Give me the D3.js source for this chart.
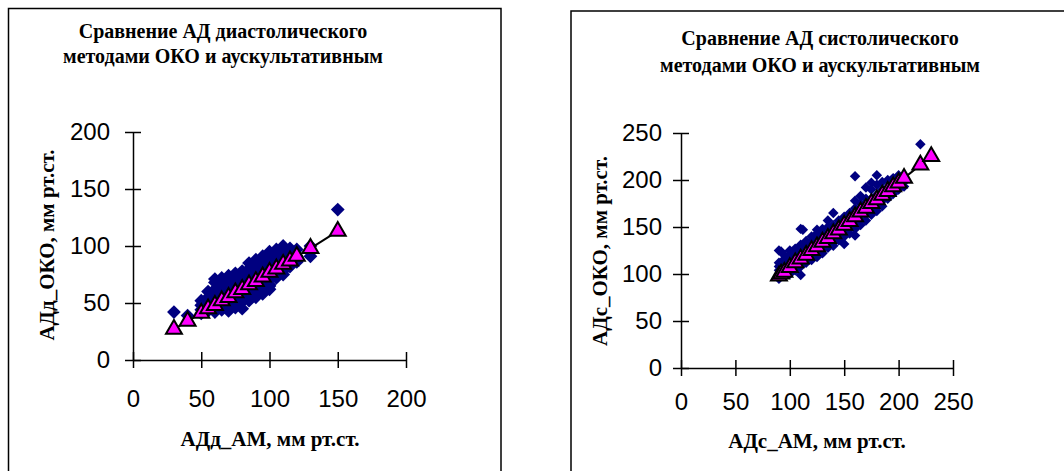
<!DOCTYPE html>
<html>
<head>
<meta charset="utf-8">
<script src="https://cdn.jsdelivr.net/npm/d3@7"></script>
<style>
  body { margin: 0; background: #fff; }
  svg { display: block; }
</style>
</head>
<body>
<svg id="chart" width="1064" height="471"></svg>
<script>
// ---- data ----
// diastolic: AM (x) vs OKO (y)
const diaAM = [
  30, 40,
  50, 50, 50, 50,
  55, 55, 55, 55, 55,
  60, 60, 60, 60, 60, 60, 60, 60, 60,
  65, 65, 65, 65, 65, 65, 65, 65,
  70, 70, 70, 70, 70, 70, 70, 70, 70,
  75, 75, 75, 75, 75, 75, 75, 75,
  80, 80, 80, 80, 80, 80, 80, 80, 80,
  85, 85, 85, 85, 85, 85, 85, 85,
  90, 90, 90, 90, 90, 90, 90, 90,
  95, 95, 95, 95, 95, 95, 95, 95,
  100, 100, 100, 100, 100, 100, 100, 100, 100,
  105, 105, 105, 105, 105, 105,
  110, 110, 110, 110, 110, 110, 110,
  115, 115, 115, 115,
  120, 120, 120,
  130, 130,
  150
];
const diaOKO = [
  42, 39,
  44, 48, 52, 41,
  45, 50, 55, 60, 43,
  42, 47, 52, 57, 62, 68, 71, 45, 50,
  44, 49, 54, 58, 63, 67, 72, 52,
  43, 48, 53, 57, 61, 66, 70, 74, 59,
  46, 50, 55, 60, 64, 68, 73, 76,
  45, 51, 56, 61, 65, 70, 74, 78, 58,
  52, 57, 62, 67, 71, 76, 80, 85,
  55, 60, 64, 69, 73, 78, 83, 88,
  58, 63, 68, 73, 78, 82, 87, 91,
  62, 66, 71, 76, 81, 86, 90, 95, 65,
  72, 77, 82, 87, 92, 97,
  75, 80, 85, 90, 95, 100, 78,
  82, 88, 93, 98,
  86, 91, 97,
  91, 100,
  132
];
const diaTrendX = [30, 40, 50, 55, 60, 65, 70, 75, 80, 85, 90, 95, 100, 105, 110, 115, 120, 130, 150];
const diaTrendY = [27, 34, 41, 45, 48, 52, 55, 59, 62, 66, 69, 73, 77, 80, 84, 87, 91, 98, 113];

// systolic: AM (x) vs OKO (y)
const sysAM = [
  90, 90, 90, 90, 90, 90, 90,
  92, 92, 92,
  95, 95, 95, 95, 95, 95,
  100, 100, 100, 100, 100, 100, 100, 100,
  105, 105, 105, 105, 105, 105,
  110, 110, 110, 110, 110, 110, 110, 110, 110,
  112,
  115, 115, 115, 115, 115, 115,
  120, 120, 120, 120, 120, 120,
  125, 125, 125, 125, 125, 125, 125,
  130, 130, 130, 130, 130, 130,
  135, 135, 135, 135, 135, 135,
  140, 140, 140, 140, 140, 140,
  145, 145, 145, 145, 145,
  150, 150, 150, 150, 150, 150,
  155, 155, 155, 155, 155,
  160, 160, 160, 160, 160, 160, 160, 160,
  165, 165, 165, 165, 165, 165,
  170, 170, 170, 170, 170, 170,
  175, 175, 175, 175, 175, 175,
  180, 180, 180, 180, 180, 180,
  185, 185, 185, 185, 185,
  190, 190, 190, 190,
  195, 195, 195, 195,
  200, 200, 200, 200,
  205, 205,
  220
];
const sysOKO = [
  97, 100, 104, 108, 112, 125, 95,
  110, 102, 124,
  99, 103, 107, 112, 116, 120,
  100, 104, 108, 112, 116, 121, 125, 103,
  104, 108, 113, 118, 122, 127,
  99, 108, 113, 117, 122, 126, 131, 148, 110,
  147,
  112, 117, 121, 126, 131, 135,
  115, 120, 125, 130, 135, 140,
  118, 123, 128, 133, 138, 143, 147,
  122, 127, 132, 137, 142, 148,
  128, 133, 138, 143, 150, 157,
  130, 136, 141, 146, 152, 165,
  136, 141, 146, 152, 157,
  132, 140, 145, 150, 156, 161,
  143, 149, 155, 160, 165,
  141, 148, 153, 158, 164, 170, 178, 204,
  152, 158, 163, 168, 175, 183,
  157, 163, 168, 173, 180, 192,
  163, 168, 174, 180, 190, 197,
  167, 172, 178, 184, 195, 205,
  172, 178, 184, 190, 198,
  180, 186, 192, 200,
  185, 190, 196, 202,
  190, 195, 200, 205,
  193, 198,
  238
];
const sysTrendX = [90, 92, 95, 100, 105, 110, 115, 120, 125, 130, 135, 140, 145, 150, 155, 160, 165, 170, 175, 180, 185, 190, 195, 200, 205, 220, 230];
const sysTrendY = [98, 100, 102, 107, 112, 116, 120, 125, 129, 134, 138, 143, 147, 152, 156, 161, 166, 170, 175, 179, 184, 188, 193, 197, 202, 216, 225];

const diaTicks = [0, 50, 100, 150, 200];
const sysTicks = [0, 50, 100, 150, 200, 250];

const diaTitle = ["Сравнение АД диастолического", "методами ОКО и аускультативным"];
const sysTitle = ["Сравнение АД систолического", "методами ОКО и аускультативным"];
const diaXLabel = "АДд_АМ, мм рт.ст.";
const diaYLabel = "АДд_ОКО, мм рт.ст.";
const sysXLabel = "АДс_АМ, мм рт.ст.";
const sysYLabel = "АДс_ОКО, мм рт.ст.";

const svg = d3.select("#chart");
const serif = "'Liberation Serif', 'DejaVu Serif', serif";

function drawPanel(cfg) {
  // Panel frame
  svg.append("rect")
    .attr("x", cfg.frame[0])
    .attr("y", cfg.frame[1])
    .attr("width", cfg.frame[2])
    .attr("height", cfg.frame[3])
    .attr("fill", "#fff")
    .attr("stroke", "#000")
    .attr("stroke-width", 1.5);

  const x = d3.scaleLinear().domain(d3.extent(cfg.ticks)).range([cfg.plot.left, cfg.plot.right]);
  const y = d3.scaleLinear().domain(d3.extent(cfg.ticks)).range([cfg.plot.bottom, cfg.plot.top]);

  // Title
  svg.append("text")
    .attr("x", cfg.titleX)
    .attr("y", cfg.titleY)
    .attr("text-anchor", "middle")
    .style("font-family", serif)
    .style("font-size", cfg.titleSize + "px")
    .style("font-weight", "bold")
    .selectAll("tspan")
    .data(cfg.title)
    .enter()
    .append("tspan")
    .attr("x", cfg.titleX)
    .attr("dy", (d, i) => (i === 0 ? 0 : cfg.titleGap))
    .text((d) => d);

  // Y axis, ticks cross the line
  const gy = svg.append("g")
    .attr("transform", `translate(${cfg.plot.left},0)`)
    .call(d3.axisLeft(y).tickValues(cfg.ticks).tickSizeInner(8).tickSizeOuter(0).tickPadding(cfg.yPad));
  gy.selectAll(".tick line").attr("x1", 8);

  // X axis
  const gx = svg.append("g")
    .attr("transform", `translate(0,${cfg.plot.bottom})`)
    .call(d3.axisBottom(x).tickValues(cfg.ticks).tickSizeInner(8).tickSizeOuter(0).tickPadding(cfg.xPad));
  gx.selectAll(".tick line").attr("y1", -8);

  [gx, gy].forEach((g) => {
    g.selectAll("path, line").attr("stroke", "#000").attr("stroke-width", 1.5);
    g.selectAll("text")
      .attr("fill", "#000")
      .style("font-family", "'Liberation Sans', Arial, sans-serif")
      .style("font-size", "24px");
  });

  // Axis titles
  svg.append("text")
    .attr("x", cfg.xLabelPos[0])
    .attr("y", cfg.xLabelPos[1])
    .attr("text-anchor", "middle")
    .style("font-family", serif)
    .style("font-size", cfg.labelSize + "px")
    .style("font-weight", "bold")
    .text(cfg.xLabel);

  svg.append("text")
    .attr("transform", `translate(${cfg.yLabelPos[0]},${cfg.yLabelPos[1]}) rotate(-90)`)
    .attr("text-anchor", "middle")
    .style("font-family", serif)
    .style("font-size", cfg.labelSize + "px")
    .style("font-weight", "bold")
    .text(cfg.yLabel);

  // Scatter diamonds
  const pts = cfg.xs.map((v, i) => [v, cfg.ys[i]]);
  svg.append("g")
    .selectAll("path")
    .data(pts)
    .enter()
    .append("path")
    .attr("d", d3.symbol(d3.symbolSquare, cfg.diamondSize))
    .attr("transform", (d) => `translate(${x(d[0])},${y(d[1])}) rotate(45)`)
    .attr("fill", "#000080");

  // Trend line with triangles
  const trend = cfg.tx.map((v, i) => [v, cfg.ty[i]]);
  svg.append("path")
    .datum(trend)
    .attr("fill", "none")
    .attr("stroke", "#000")
    .attr("stroke-width", 2)
    .attr("d", d3.line().x((d) => x(d[0])).y((d) => y(d[1])));

  svg.append("g")
    .selectAll("path")
    .data(trend)
    .enter()
    .append("path")
    .attr("d", d3.symbol(d3.symbolTriangle, cfg.triSize))
    .attr("transform", (d) => `translate(${x(d[0])},${y(d[1])})`)
    .attr("fill", "#ff00ff")
    .attr("stroke", "#000")
    .attr("stroke-width", 2);
}

drawPanel({
  frame: [8.5, 8.5, 492.5, 480],
  plot: { left: 133, right: 406, top: 132, bottom: 360 },
  ticks: diaTicks,
  yPad: 15, xPad: 22,
  title: diaTitle, titleX: 223, titleY: 38, titleGap: 25, titleSize: 20,
  xLabel: diaXLabel, yLabel: diaYLabel, labelSize: 21,
  xLabelPos: [270, 446], yLabelPos: [54, 245],
  xs: diaAM, ys: diaOKO, tx: diaTrendX, ty: diaTrendY,
  diamondSize: 95, triSize: 110
});

drawPanel({
  frame: [571, 11, 520, 480],
  plot: { left: 681, right: 953, top: 133, bottom: 368 },
  ticks: sysTicks,
  yPad: 11, xPad: 17,
  title: sysTitle, titleX: 820, titleY: 45, titleGap: 27, titleSize: 20,
  xLabel: sysXLabel, yLabel: sysYLabel, labelSize: 21,
  xLabelPos: [817, 448], yLabelPos: [607, 251],
  xs: sysAM, ys: sysOKO, tx: sysTrendX, ty: sysTrendY,
  diamondSize: 55, triSize: 110
});
</script>
</body>
</html>
